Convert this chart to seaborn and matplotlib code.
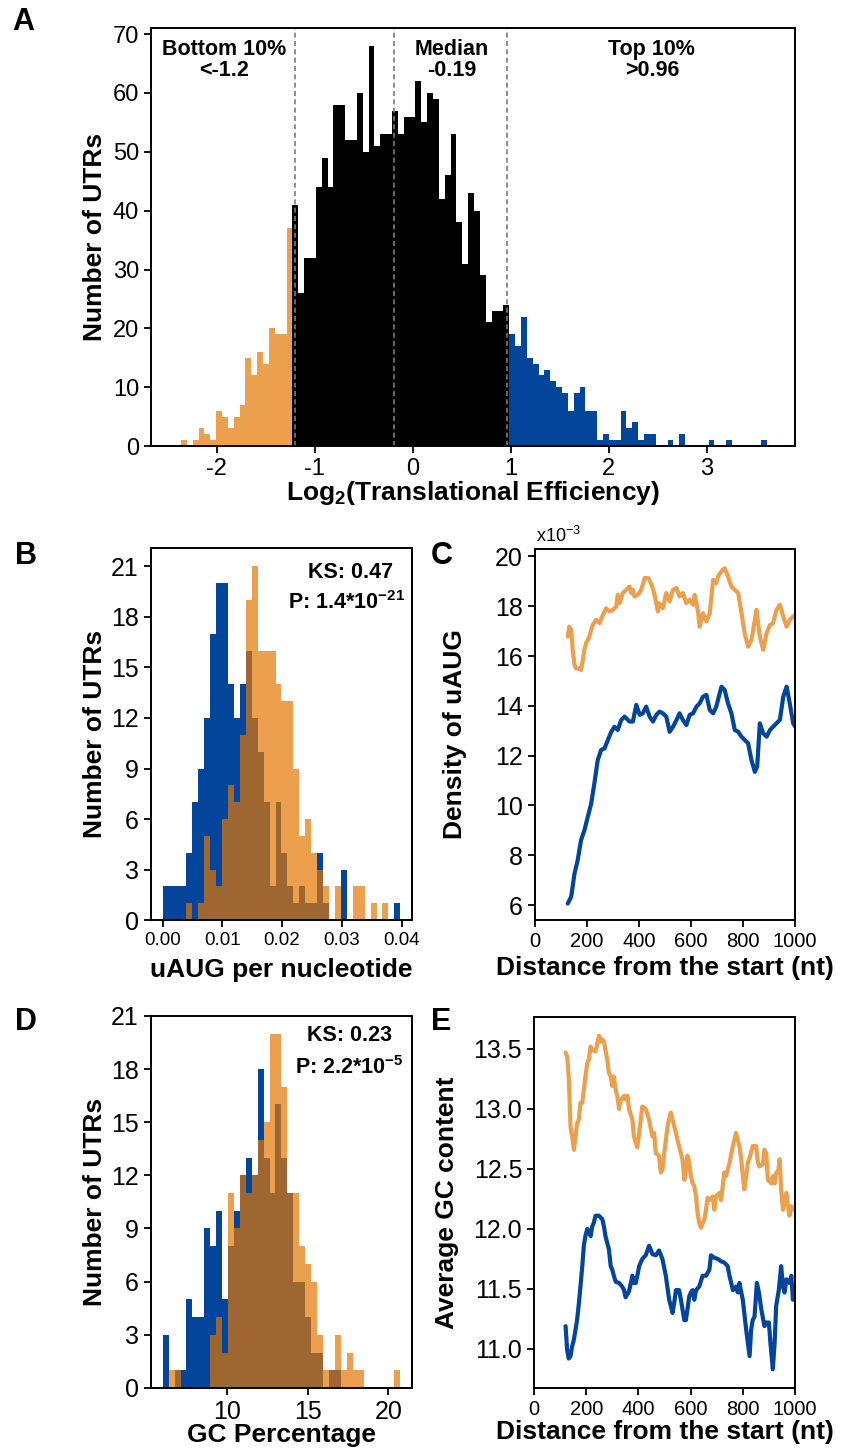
import numpy as np
import pandas as pd
import matplotlib
matplotlib.use("Agg")
import matplotlib.pyplot as plt
import seaborn as sns

# ---- Daten ----
# A: Histogramm log2(TE), 100 Bins von -2.364 bis 3.616
te_range = (-2.364, 3.616)
te_nbins = 100
bottom_counts = [1, 0, 1, 3, 2, 1, 6, 5, 3, 5, 7, 15, 12, 16, 14, 20, 19, 19, 37]
middle_counts = [41, 26, 32, 32, 44, 49, 44, 58, 58, 52, 52, 60, 50, 68, 51, 53, 53, 57, 53, 56,
                 56, 62, 55, 60, 59, 42, 46, 53, 38, 31, 43, 40, 29, 21, 23, 23, 24]
top_counts = [19, 17, 22, 15, 14, 12, 13, 11, 10, 9, 6, 9, 10, 6, 6, 1, 2, 1, 1, 6,
              3, 4, 1, 2, 2, 0, 0, 1, 0, 2, 0, 0, 0, 0, 1, 0, 0, 1, 0, 0,
              0, 0, 0, 1]
cutoffs = [-1.2, -0.19, 0.96]

# B: uAUG pro Nukleotid, 40 Bins
uaug_range = (0.0, 0.0398)
uaug_top = [2, 2, 2, 2, 4, 7, 9, 12, 17, 20, 20, 14, 12, 14, 16, 12, 10, 7, 2, 7,
            4, 2, 1, 2, 1, 1, 4, 1, 0, 0, 3, 0, 0, 0, 0, 0, 0, 0, 0, 1]
uaug_bottom = [0, 0, 0, 0, 1, 0, 1, 5, 3, 2, 6, 8, 7, 11, 19, 21, 16, 16, 16, 14,
               13, 13, 9, 5, 6, 4, 3, 2, 0, 2, 0, 0, 2, 2, 0, 1, 0, 1, 0, 0]

# D: GC-Anteil, 40 Bins
gc_range = (5.99, 20.73)
gc_top = [3, 0, 1, 1, 5, 4, 4, 9, 8, 10, 5, 8, 10, 12, 13, 12, 18, 13, 11, 16,
          13, 11, 6, 6, 4, 2, 2, 0, 1, 1, 0, 0, 0, 0, 0, 0, 0, 0, 0, 0]
gc_bottom = [0, 1, 1, 0, 0, 0, 0, 0, 3, 4, 2, 11, 9, 12, 11, 12, 14, 15, 20, 20,
             17, 11, 11, 8, 7, 6, 3, 1, 1, 3, 1, 2, 1, 1, 0, 0, 0, 0, 0, 1]

# C: Dichte uAUG (x10^-3) entlang der UTR
dens_bottom_pos = [127, 133, 140, 146, 153, 159, 172, 178, 185, 191, 197, 204, 210, 217, 223, 236, 249, 262, 274, 287,
                   300, 313, 319, 326, 338, 351, 364, 371, 377, 383, 396, 409, 422, 436, 449, 460, 473, 479, 492, 505,
                   518, 531, 544, 556, 569, 582, 595, 608, 614, 627, 633, 646, 659, 672, 685, 697, 704, 717, 729, 742,
                   755, 768, 781, 794, 806, 819, 832, 845, 851, 864, 877, 890, 903, 915, 928, 941, 954, 967, 979, 992,
                   1000]
dens_bottom = [16.78, 17.18, 17.05, 16.25, 15.64, 15.5, 15.5, 15.44, 15.84, 16.25, 16.51, 16.65, 16.78, 17.05, 17.25,
               17.45, 17.32, 17.65, 17.92, 17.79, 17.85, 17.99, 18.46, 18.12, 18.53, 18.66, 18.79, 18.53, 18.66, 18.39,
               18.46, 18.66, 19.13, 19.13, 18.86, 18.46, 17.79, 18.12, 17.92, 18.53, 18.19, 18.66, 18.73, 18.39, 18.53,
               18.12, 18.26, 18.06, 18.46, 17.79, 17.18, 17.72, 17.39, 17.72, 19.06, 18.93, 19.20, 19.40, 19.53, 19.20,
               18.79, 18.66, 18.53, 17.72, 16.92, 16.38, 16.65, 17.45, 17.85, 16.78, 16.25, 16.92, 17.25, 17.32, 17.85,
               18.06, 17.59, 17.18, 17.45, 17.59, 17.65]
dens_top_pos = [127, 140, 153, 165, 178, 191, 204, 217, 229, 242, 255, 268, 281, 294, 306, 319, 332, 345, 364, 377,
                390, 403, 415, 428, 441, 454, 467, 479, 492, 505, 518, 531, 544, 556, 569, 582, 595, 608, 621, 633,
                646, 659, 672, 685, 697, 710, 717, 729, 742, 755, 768, 781, 794, 806, 819, 832, 845, 854, 864, 877,
                890, 903, 915, 928, 941, 954, 967, 979, 992, 1000]
dens_top = [6.06, 6.33, 7.27, 7.80, 8.61, 9.01, 9.55, 10.08, 10.88, 11.82, 12.23, 12.29, 12.63, 12.96, 13.16,
            13.03, 13.43, 13.57, 13.37, 13.37, 14.04, 13.64, 13.70, 13.97, 13.57, 13.37, 13.64, 13.77, 13.70, 13.57,
            12.96, 13.16, 13.43, 13.70, 13.43, 13.23, 13.64, 13.70, 13.97, 14.10, 14.37, 14.44, 13.83, 13.70, 13.97,
            14.50, 14.77, 14.64, 14.10, 13.70, 13.03, 12.96, 12.76, 12.63, 12.50, 11.82, 11.35, 11.56, 13.30, 12.90,
            12.76, 13.03, 13.16, 13.30, 13.43, 14.37, 14.77, 14.10, 13.30, 13.16]

# E: mittlerer GC-Gehalt entlang der UTR
gcavg_bottom_pos = [121, 127, 133, 140, 146, 153, 159, 165, 172, 178, 185, 191, 197, 204, 210, 217, 223, 236, 249, 255,
                    262, 268, 274, 281, 287, 294, 300, 306, 313, 319, 326, 332, 338, 345, 351, 358, 364, 377, 383, 396,
                    403, 415, 428, 441, 454, 460, 467, 479, 486, 492, 499, 512, 524, 537, 550, 563, 569, 576, 582, 588,
                    595, 601, 608, 614, 621, 627, 633, 640, 653, 659, 665, 672, 685, 691, 697, 710, 717, 729, 736, 742,
                    749, 762, 774, 781, 787, 794, 800, 806, 813, 819, 826, 838, 851, 858, 864, 877, 883, 890, 896, 909,
                    915, 922, 928, 935, 941, 947, 954, 960, 967, 973, 979, 986, 992]
gcavg_bottom = [13.47, 13.44, 13.27, 12.85, 12.77, 12.66, 12.77, 12.88, 12.91, 13.05, 13.05, 13.16, 13.27, 13.38, 13.41,
                13.52, 13.49, 13.48, 13.61, 13.56, 13.58, 13.56, 13.49, 13.41, 13.30, 13.27, 13.19, 13.27, 13.16, 13.11,
                13.0, 13.08, 13.08, 13.11, 13.08, 13.11, 13.0, 12.91, 12.77, 12.68, 12.80, 13.02, 13.0, 12.91, 12.77,
                12.80, 12.63, 12.61, 12.47, 12.49, 12.63, 12.86, 12.97, 12.86, 12.74, 12.63, 12.58, 12.41, 12.49, 12.61,
                12.55, 12.44, 12.38, 12.36, 12.27, 12.13, 12.05, 12.01, 12.08, 12.16, 12.26, 12.24, 12.27, 12.16, 12.27,
                12.30, 12.24, 12.47, 12.44, 12.49, 12.55, 12.69, 12.80, 12.74, 12.69, 12.58, 12.44, 12.33, 12.44, 12.55,
                12.59, 12.69, 12.69, 12.55, 12.52, 12.54, 12.66, 12.63, 12.41, 12.38, 12.44, 12.38, 12.47, 12.47, 12.58,
                12.33, 12.16, 12.24, 12.30, 12.19, 12.11, 12.19, 12.16]
gcavg_top_pos = [121, 127, 133, 140, 146, 153, 159, 165, 172, 178, 185, 191, 197, 204, 210, 217, 223, 229, 236, 249,
                 262, 268, 274, 281, 287, 294, 300, 306, 313, 326, 338, 345, 351, 364, 377, 383, 390, 396, 403, 415,
                 428, 441, 454, 467, 479, 492, 505, 518, 524, 531, 537, 544, 556, 563, 569, 576, 582, 588, 595, 601,
                 608, 614, 621, 633, 646, 659, 672, 678, 691, 704, 717, 729, 742, 749, 762, 774, 781, 787, 800, 813,
                 826, 832, 838, 845, 854, 862, 871, 883, 890, 900, 906, 915, 922, 928, 938, 947, 954, 960, 967, 979,
                 986, 992, 1000]
gcavg_top = [11.19, 10.99, 10.92, 10.94, 11.02, 11.08, 11.16, 11.24, 11.38, 11.52, 11.69, 11.86, 11.94, 12.0, 11.98,
             11.94, 12.02, 12.05, 12.11, 12.11, 12.08, 12.02, 11.94, 11.88, 11.83, 11.69, 11.66, 11.61, 11.56, 11.55,
             11.52, 11.49, 11.43, 11.48, 11.61, 11.55, 11.55, 11.61, 11.69, 11.75, 11.78, 11.86, 11.79, 11.78, 11.82,
             11.75, 11.61, 11.41, 11.36, 11.30, 11.38, 11.49, 11.49, 11.41, 11.33, 11.24, 11.24, 11.33, 11.44, 11.47,
             11.49, 11.41, 11.49, 11.52, 11.61, 11.61, 11.66, 11.78, 11.76, 11.75, 11.73, 11.72, 11.69, 11.61, 11.49,
             11.52, 11.47, 11.55, 11.41, 11.16, 10.94, 11.16, 11.24, 11.27, 11.55, 11.47, 11.33, 11.19, 11.22, 11.22,
             11.05, 10.83, 11.05, 11.36, 11.49, 11.69, 11.52, 11.47, 11.58, 11.55, 11.61, 11.41, 11.52]

# ---- Stil ----
ORANGE = "#EC9F4C"
BLUE = "#03459A"
BROWN = "#9E6731"

sns.set_style("ticks")
plt.rcParams["font.family"] = ["Liberation Sans", "DejaVu Sans"]
plt.rcParams["mathtext.fontset"] = "custom"
plt.rcParams["mathtext.rm"] = "Liberation Sans"
plt.rcParams["mathtext.bf"] = "Liberation Sans:bold"
plt.rcParams["mathtext.it"] = "Liberation Sans:italic"
plt.rcParams["axes.unicode_minus"] = False
for key in ["text.color", "axes.labelcolor", "xtick.color", "ytick.color", "axes.edgecolor"]:
    plt.rcParams[key] = "black"
plt.rcParams["axes.linewidth"] = 1.4
plt.rcParams["xtick.major.width"] = 1.3
plt.rcParams["ytick.major.width"] = 1.3
plt.rcParams["xtick.major.size"] = 5
plt.rcParams["ytick.major.size"] = 5

fig = plt.figure(figsize=(8.46, 14.5), dpi=100)
axA = fig.add_axes([0.1785, 0.6924, 0.7612, 0.2881])
axB = fig.add_axes([0.1781, 0.3655, 0.3085, 0.2566])
axC = fig.add_axes([0.632, 0.3655, 0.308, 0.2559])
axD = fig.add_axes([0.1781, 0.0428, 0.3085, 0.2566])
axE = fig.add_axes([0.6312, 0.0428, 0.3085, 0.2559])


def hist_counts(ax, edges, counts, first_bin, color):
    # Zaehlungen als Gewichte auf die Bin-Mitten legen
    ctr = (edges[:-1] + edges[1:]) / 2
    df = pd.DataFrame({"x": ctr[first_bin:first_bin + len(counts)], "n": np.asarray(counts, float)})
    sns.histplot(data=df, x="x", weights="n", bins=list(edges), color=color,
                 alpha=1, linewidth=0, ax=ax)


def label_axes(ax, xlabel, ylabel, xpos, ypos):
    ax.set_xlabel(xlabel, fontsize=19, fontweight="bold")
    ax.set_ylabel(ylabel, fontsize=19, fontweight="bold")
    ax.xaxis.set_label_coords(0.5, xpos)
    ax.yaxis.set_label_coords(ypos, 0.5)
    ax.xaxis.label.set_va("center")
    ax.yaxis.label.set_va("center")


# ---- A ----
te_edges = np.linspace(te_range[0], te_range[1], te_nbins + 1)
n_b, n_m = len(bottom_counts), len(middle_counts)
hist_counts(axA, te_edges, bottom_counts, 0, ORANGE)
hist_counts(axA, te_edges, middle_counts, n_b, "black")
hist_counts(axA, te_edges, top_counts, n_b + n_m, BLUE)
for c in cutoffs:
    axA.axvline(c, color="#7a7a7a", lw=1.2, ls=(0, (3, 2)))
axA.set_xlim(-2.67, 3.9)
axA.set_ylim(0, 71)
axA.set_xticks([-2, -1, 0, 1, 2, 3])
axA.set_yticks(range(0, 71, 10))
axA.tick_params(labelsize=17)
for x, txt in [(-1.925, "Bottom 10%\n<-1.2"), (0.40, "Median\n-0.19"), (2.44, "Top 10%\n>0.96")]:
    axA.text(x, 65.6, txt, ha="center", va="center", fontsize=15.5, fontweight="bold", linespacing=1.05)
label_axes(axA, r"Log$_{\mathbf{2}}$(Translational Efficiency)", "Number of UTRs", -0.112, -0.087)


# ---- B und D: ueberlagerte Histogramme ----
def overlap_hist(ax, rng, top, bottom):
    edges = np.linspace(rng[0], rng[1], len(top) + 1)
    hist_counts(ax, edges, top, 0, BLUE)
    hist_counts(ax, edges, bottom, 0, ORANGE)
    hist_counts(ax, edges, np.minimum(top, bottom), 0, BROWN)


overlap_hist(axB, uaug_range, uaug_top, uaug_bottom)
axB.set_xlim(-0.002, 0.0417)
axB.set_ylim(0, 22.1)
axB.set_yticks(range(0, 22, 3))
axB.set_xticks([0, 0.01, 0.02, 0.03, 0.04])
axB.set_xticklabels(["0.00", "0.01", "0.02", "0.03", "0.04"])
axB.tick_params(axis="y", labelsize=18)
axB.tick_params(axis="x", labelsize=13.5)
axB.text(0.764, 0.933, "KS: 0.47", transform=axB.transAxes, ha="center", va="center",
         fontsize=15.5, fontweight="bold")
axB.text(0.749, 0.852, r"P: 1.4*10$^{\mathbf{-21}}$", transform=axB.transAxes, ha="center",
         va="center", fontsize=15.5, fontweight="bold")
label_axes(axB, "uAUG per nucleotide", "Number of UTRs", -0.134, -0.213)

overlap_hist(axD, gc_range, gc_top, gc_bottom)
axD.set_xlim(5.24, 21.45)
axD.set_ylim(0, 21)
axD.set_yticks(range(0, 22, 3))
axD.set_xticks([10, 15, 20])
axD.tick_params(labelsize=18)
axD.text(0.76, 0.946, "KS: 0.23", transform=axD.transAxes, ha="center", va="center",
         fontsize=15.5, fontweight="bold")
axD.text(0.76, 0.86, r"P: 2.2*10$^{\mathbf{-5}}$", transform=axD.transAxes, ha="center",
         va="center", fontsize=15.5, fontweight="bold")
label_axes(axD, "GC Percentage", "Number of UTRs", -0.126, -0.213)

# ---- C ----
sns.lineplot(x=dens_bottom_pos, y=dens_bottom, color=ORANGE, linewidth=3.0, ax=axC)
sns.lineplot(x=dens_top_pos, y=dens_top, color=BLUE, linewidth=3.0, ax=axC)
axC.set_xlim(0, 1000)
axC.set_ylim(5.4, 20.3)
axC.set_yticks(range(6, 21, 2))
axC.set_xticks(range(0, 1001, 200))
axC.tick_params(axis="y", labelsize=18)
axC.tick_params(axis="x", labelsize=14.5)
axC.text(0.005, 1.035, r"x10$^{-3}$", transform=axC.transAxes, ha="left", va="center", fontsize=13)
label_axes(axC, "Distance from the start (nt)", "Density of uAUG", -0.129, -0.306)

# ---- E ----
sns.lineplot(x=gcavg_bottom_pos, y=gcavg_bottom, color=ORANGE, linewidth=3.0, ax=axE)
sns.lineplot(x=gcavg_top_pos, y=gcavg_top, color=BLUE, linewidth=3.0, ax=axE)
axE.set_xlim(0, 1000)
axE.set_ylim(10.675, 13.767)
axE.set_yticks([11.0, 11.5, 12.0, 12.5, 13.0, 13.5])
axE.set_yticklabels(["11.0", "11.5", "12.0", "12.5", "13.0", "13.5"])
axE.set_xticks(range(0, 1001, 200))
axE.tick_params(axis="y", labelsize=18)
axE.tick_params(axis="x", labelsize=14.5)
label_axes(axE, "Distance from the start (nt)", "Average GC content", -0.119, -0.333)

for ax in [axA, axB, axC, axD, axE]:
    for s in ax.spines.values():
        s.set_visible(True)
        s.set_color("black")

# Panelbuchstaben
for (x, y), letter in zip([(0.028, 0.985), (0.031, 0.6166), (0.522, 0.6166), (0.031, 0.295), (0.522, 0.295)],
                          "ABCDE"):
    fig.text(x, y, letter, ha="center", va="center", fontsize=22, fontweight="bold")

fig.savefig("out.png", dpi=100)
plt.close(fig)
